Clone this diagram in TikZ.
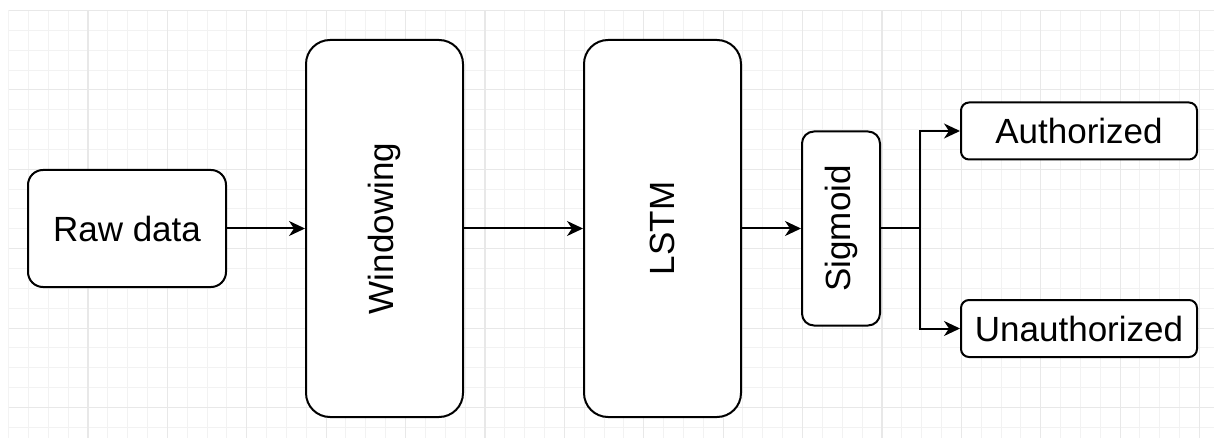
\documentclass[tikz,border=0pt]{standalone}
\usepackage{fontspec}
\setmainfont{Liberation Sans}
\usetikzlibrary{arrows.meta}

\tikzset{
  minorgrid/.style={draw=black!5, line width=1pt},
  majorgrid/.style={draw=black!9, line width=1.2pt},
  stagebox/.style={draw=black, line width=2pt, fill=white, align=center,
    inner sep=0pt, font=\fontsize{35}{40}\selectfont},
  link/.style={draw=black, line width=2pt},
  arr/.style={link, -{Stealth[length=16pt, width=15pt, inset=5pt]}}
}

\begin{document}
\begin{tikzpicture}[x=1pt, y=-1pt]
  \useasboundingbox (0,0) rectangle (1214,438);
  \fill[white] (0,0) rectangle (1214,438);

  % background grid: minor every 19.85, major every 79.4
  \begin{scope}
    \clip (8.5,10.5) rectangle (1214,438);
    \foreach \i in {0,...,61} {
      \draw[minorgrid] ({8.5+19.85*\i},10.5) -- ({8.5+19.85*\i},438);
    }
    \foreach \j in {0,...,22} {
      \draw[minorgrid] (8.5,{10.5+19.85*\j}) -- (1214,{10.5+19.85*\j});
    }
    \foreach \i in {0,...,15} {
      \draw[majorgrid] ({8.5+79.4*\i},10.5) -- ({8.5+79.4*\i},438);
    }
    \foreach \j in {0,...,5} {
      \draw[majorgrid] (8.5,{10.5+79.4*\j}) -- (1214,{10.5+79.4*\j});
    }
  \end{scope}

  % processing stages
  \node[stagebox, rounded corners=15pt, minimum width=198pt, minimum height=117pt]
    (raw) at (127,228.5) {Raw data};
  \node[stagebox, rounded corners=24pt, minimum width=157pt, minimum height=377pt]
    (win) at (384.5,228.5) {\rotatebox{90}{Windowing}};
  \node[stagebox, rounded corners=24pt, minimum width=157pt, minimum height=377pt]
    (lstm) at (662.5,228.5) {\rotatebox{90}{LSTM}};
  \node[stagebox, rounded corners=12pt, minimum width=78pt, minimum height=194pt]
    (sig) at (841,228.5) {\rotatebox{90}{Sigmoid}};

  % outputs
  \node[stagebox, rounded corners=8pt, minimum width=236pt, minimum height=57pt]
    (auth) at (1079,131) {Authorized};
  \node[stagebox, rounded corners=8pt, minimum width=236pt, minimum height=57pt]
    (unauth) at (1079,328.5) {Unauthorized};

  % connectors
  \draw[arr] (raw.east) -- (win.west);
  \draw[arr] (win.east) -- (lstm.west);
  \draw[arr] (lstm.east) -- (sig.west);
  \coordinate (split) at (920,228.5);
  \draw[link] (sig.east) -- (split);
  \draw[arr] (split) |- (auth.west);
  \draw[arr] (split) |- (unauth.west);
\end{tikzpicture}
\end{document}
